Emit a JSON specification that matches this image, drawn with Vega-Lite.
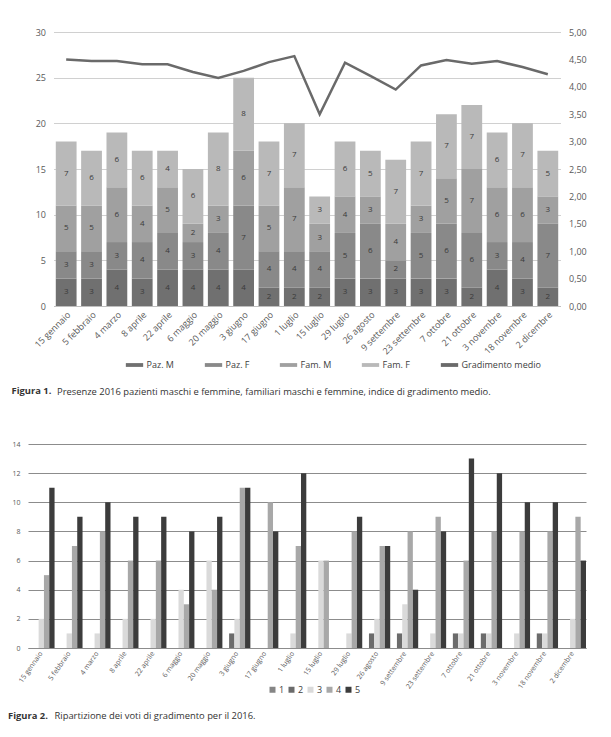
{
  "$schema": "https://vega.github.io/schema/vega-lite/v6.json",
  "background": "white",
  "padding": {"top": 28, "left": 8, "right": 10, "bottom": 10},
  "config": {
    "font": "Open Sans",
    "locale": {"number": {"decimal": ",", "thousands": ".", "grouping": [3], "currency": ["€", ""]}},
    "view": {"stroke": null},
    "axis": {"labelColor": "#595959", "domain": false, "ticks": false, "labelFont": "Open Sans",
             "titleFont": "Open Sans", "titleFontSize": 9.4, "titleFontWeight": "normal", "titleColor": "#333333", "titleAlign": "left", "titleBaseline": "alphabetic", "titleAngle": 0},
    "legend": {"labelColor": "#404040", "title": null},
    "title": {"font": "Open Sans", "fontWeight": "bold", "fontSize": 9.4, "color": "#333333"}
  },
  "datasets": {
    "presenze": [
      {"data": "15 gennaio", "gruppo": "Paz. M", "n": 3}, {"data": "15 gennaio", "gruppo": "Paz. F", "n": 3}, {"data": "15 gennaio", "gruppo": "Fam. M", "n": 5}, {"data": "15 gennaio", "gruppo": "Fam. F", "n": 7},
      {"data": "5 febbraio", "gruppo": "Paz. M", "n": 3}, {"data": "5 febbraio", "gruppo": "Paz. F", "n": 3}, {"data": "5 febbraio", "gruppo": "Fam. M", "n": 5}, {"data": "5 febbraio", "gruppo": "Fam. F", "n": 6},
      {"data": "4 marzo", "gruppo": "Paz. M", "n": 4}, {"data": "4 marzo", "gruppo": "Paz. F", "n": 3}, {"data": "4 marzo", "gruppo": "Fam. M", "n": 6}, {"data": "4 marzo", "gruppo": "Fam. F", "n": 6},
      {"data": "8 aprile", "gruppo": "Paz. M", "n": 3}, {"data": "8 aprile", "gruppo": "Paz. F", "n": 4}, {"data": "8 aprile", "gruppo": "Fam. M", "n": 4}, {"data": "8 aprile", "gruppo": "Fam. F", "n": 6},
      {"data": "22 aprile", "gruppo": "Paz. M", "n": 4}, {"data": "22 aprile", "gruppo": "Paz. F", "n": 4}, {"data": "22 aprile", "gruppo": "Fam. M", "n": 5}, {"data": "22 aprile", "gruppo": "Fam. F", "n": 4},
      {"data": "6 maggio", "gruppo": "Paz. M", "n": 4}, {"data": "6 maggio", "gruppo": "Paz. F", "n": 3}, {"data": "6 maggio", "gruppo": "Fam. M", "n": 2}, {"data": "6 maggio", "gruppo": "Fam. F", "n": 6},
      {"data": "20 maggio", "gruppo": "Paz. M", "n": 4}, {"data": "20 maggio", "gruppo": "Paz. F", "n": 4}, {"data": "20 maggio", "gruppo": "Fam. M", "n": 3}, {"data": "20 maggio", "gruppo": "Fam. F", "n": 8},
      {"data": "3 giugno", "gruppo": "Paz. M", "n": 4}, {"data": "3 giugno", "gruppo": "Paz. F", "n": 7}, {"data": "3 giugno", "gruppo": "Fam. M", "n": 6}, {"data": "3 giugno", "gruppo": "Fam. F", "n": 8},
      {"data": "17 giugno", "gruppo": "Paz. M", "n": 2}, {"data": "17 giugno", "gruppo": "Paz. F", "n": 4}, {"data": "17 giugno", "gruppo": "Fam. M", "n": 5}, {"data": "17 giugno", "gruppo": "Fam. F", "n": 7},
      {"data": "1 luglio", "gruppo": "Paz. M", "n": 2}, {"data": "1 luglio", "gruppo": "Paz. F", "n": 4}, {"data": "1 luglio", "gruppo": "Fam. M", "n": 7}, {"data": "1 luglio", "gruppo": "Fam. F", "n": 7},
      {"data": "15 luglio", "gruppo": "Paz. M", "n": 2}, {"data": "15 luglio", "gruppo": "Paz. F", "n": 4}, {"data": "15 luglio", "gruppo": "Fam. M", "n": 3}, {"data": "15 luglio", "gruppo": "Fam. F", "n": 3},
      {"data": "29 luglio", "gruppo": "Paz. M", "n": 3}, {"data": "29 luglio", "gruppo": "Paz. F", "n": 5}, {"data": "29 luglio", "gruppo": "Fam. M", "n": 4}, {"data": "29 luglio", "gruppo": "Fam. F", "n": 6},
      {"data": "26 agosto", "gruppo": "Paz. M", "n": 3}, {"data": "26 agosto", "gruppo": "Paz. F", "n": 6}, {"data": "26 agosto", "gruppo": "Fam. M", "n": 3}, {"data": "26 agosto", "gruppo": "Fam. F", "n": 5},
      {"data": "9 settembre", "gruppo": "Paz. M", "n": 3}, {"data": "9 settembre", "gruppo": "Paz. F", "n": 2}, {"data": "9 settembre", "gruppo": "Fam. M", "n": 4}, {"data": "9 settembre", "gruppo": "Fam. F", "n": 7},
      {"data": "23 settembre", "gruppo": "Paz. M", "n": 3}, {"data": "23 settembre", "gruppo": "Paz. F", "n": 5}, {"data": "23 settembre", "gruppo": "Fam. M", "n": 3}, {"data": "23 settembre", "gruppo": "Fam. F", "n": 7},
      {"data": "7 ottobre", "gruppo": "Paz. M", "n": 3}, {"data": "7 ottobre", "gruppo": "Paz. F", "n": 6}, {"data": "7 ottobre", "gruppo": "Fam. M", "n": 5}, {"data": "7 ottobre", "gruppo": "Fam. F", "n": 7},
      {"data": "21 ottobre", "gruppo": "Paz. M", "n": 2}, {"data": "21 ottobre", "gruppo": "Paz. F", "n": 6}, {"data": "21 ottobre", "gruppo": "Fam. M", "n": 7}, {"data": "21 ottobre", "gruppo": "Fam. F", "n": 7},
      {"data": "3 novembre", "gruppo": "Paz. M", "n": 4}, {"data": "3 novembre", "gruppo": "Paz. F", "n": 3}, {"data": "3 novembre", "gruppo": "Fam. M", "n": 6}, {"data": "3 novembre", "gruppo": "Fam. F", "n": 6},
      {"data": "18 novembre", "gruppo": "Paz. M", "n": 3}, {"data": "18 novembre", "gruppo": "Paz. F", "n": 4}, {"data": "18 novembre", "gruppo": "Fam. M", "n": 6}, {"data": "18 novembre", "gruppo": "Fam. F", "n": 7},
      {"data": "2 dicembre", "gruppo": "Paz. M", "n": 2}, {"data": "2 dicembre", "gruppo": "Paz. F", "n": 7}, {"data": "2 dicembre", "gruppo": "Fam. M", "n": 3}, {"data": "2 dicembre", "gruppo": "Fam. F", "n": 5}
    ],
    "gradimento": [
      {"data": "15 gennaio", "media": 4.50}, {"data": "5 febbraio", "media": 4.47}, {"data": "4 marzo", "media": 4.47}, {"data": "8 aprile", "media": 4.41},
      {"data": "22 aprile", "media": 4.41}, {"data": "6 maggio", "media": 4.27}, {"data": "20 maggio", "media": 4.16}, {"data": "3 giugno", "media": 4.29},
      {"data": "17 giugno", "media": 4.45}, {"data": "1 luglio", "media": 4.56}, {"data": "15 luglio", "media": 3.50}, {"data": "29 luglio", "media": 4.44},
      {"data": "26 agosto", "media": 4.20}, {"data": "9 settembre", "media": 3.95}, {"data": "23 settembre", "media": 4.39}, {"data": "7 ottobre", "media": 4.49},
      {"data": "21 ottobre", "media": 4.42}, {"data": "3 novembre", "media": 4.47}, {"data": "18 novembre", "media": 4.36}, {"data": "2 dicembre", "media": 4.23}
    ],
    "voti": [
      {"data": "15 gennaio", "voto": "1", "n": 0}, {"data": "15 gennaio", "voto": "2", "n": 0}, {"data": "15 gennaio", "voto": "3", "n": 2}, {"data": "15 gennaio", "voto": "4", "n": 5}, {"data": "15 gennaio", "voto": "5", "n": 11},
      {"data": "5 febbraio", "voto": "1", "n": 0}, {"data": "5 febbraio", "voto": "2", "n": 0}, {"data": "5 febbraio", "voto": "3", "n": 1}, {"data": "5 febbraio", "voto": "4", "n": 7}, {"data": "5 febbraio", "voto": "5", "n": 9},
      {"data": "4 marzo", "voto": "1", "n": 0}, {"data": "4 marzo", "voto": "2", "n": 0}, {"data": "4 marzo", "voto": "3", "n": 1}, {"data": "4 marzo", "voto": "4", "n": 8}, {"data": "4 marzo", "voto": "5", "n": 10},
      {"data": "8 aprile", "voto": "1", "n": 0}, {"data": "8 aprile", "voto": "2", "n": 0}, {"data": "8 aprile", "voto": "3", "n": 2}, {"data": "8 aprile", "voto": "4", "n": 6}, {"data": "8 aprile", "voto": "5", "n": 9},
      {"data": "22 aprile", "voto": "1", "n": 0}, {"data": "22 aprile", "voto": "2", "n": 0}, {"data": "22 aprile", "voto": "3", "n": 2}, {"data": "22 aprile", "voto": "4", "n": 6}, {"data": "22 aprile", "voto": "5", "n": 9},
      {"data": "6 maggio", "voto": "1", "n": 0}, {"data": "6 maggio", "voto": "2", "n": 0}, {"data": "6 maggio", "voto": "3", "n": 4}, {"data": "6 maggio", "voto": "4", "n": 3}, {"data": "6 maggio", "voto": "5", "n": 8},
      {"data": "20 maggio", "voto": "1", "n": 0}, {"data": "20 maggio", "voto": "2", "n": 0}, {"data": "20 maggio", "voto": "3", "n": 6}, {"data": "20 maggio", "voto": "4", "n": 4}, {"data": "20 maggio", "voto": "5", "n": 9},
      {"data": "3 giugno", "voto": "1", "n": 0}, {"data": "3 giugno", "voto": "2", "n": 1}, {"data": "3 giugno", "voto": "3", "n": 2}, {"data": "3 giugno", "voto": "4", "n": 11}, {"data": "3 giugno", "voto": "5", "n": 11},
      {"data": "17 giugno", "voto": "1", "n": 0}, {"data": "17 giugno", "voto": "2", "n": 0}, {"data": "17 giugno", "voto": "3", "n": 0}, {"data": "17 giugno", "voto": "4", "n": 10}, {"data": "17 giugno", "voto": "5", "n": 8},
      {"data": "1 luglio", "voto": "1", "n": 0}, {"data": "1 luglio", "voto": "2", "n": 0}, {"data": "1 luglio", "voto": "3", "n": 1}, {"data": "1 luglio", "voto": "4", "n": 7}, {"data": "1 luglio", "voto": "5", "n": 12},
      {"data": "15 luglio", "voto": "1", "n": 0}, {"data": "15 luglio", "voto": "2", "n": 0}, {"data": "15 luglio", "voto": "3", "n": 6}, {"data": "15 luglio", "voto": "4", "n": 6}, {"data": "15 luglio", "voto": "5", "n": 0},
      {"data": "29 luglio", "voto": "1", "n": 0}, {"data": "29 luglio", "voto": "2", "n": 0}, {"data": "29 luglio", "voto": "3", "n": 1}, {"data": "29 luglio", "voto": "4", "n": 8}, {"data": "29 luglio", "voto": "5", "n": 9},
      {"data": "26 agosto", "voto": "1", "n": 0}, {"data": "26 agosto", "voto": "2", "n": 1}, {"data": "26 agosto", "voto": "3", "n": 2}, {"data": "26 agosto", "voto": "4", "n": 7}, {"data": "26 agosto", "voto": "5", "n": 7},
      {"data": "9 settembre", "voto": "1", "n": 0}, {"data": "9 settembre", "voto": "2", "n": 1}, {"data": "9 settembre", "voto": "3", "n": 3}, {"data": "9 settembre", "voto": "4", "n": 8}, {"data": "9 settembre", "voto": "5", "n": 4},
      {"data": "23 settembre", "voto": "1", "n": 0}, {"data": "23 settembre", "voto": "2", "n": 0}, {"data": "23 settembre", "voto": "3", "n": 1}, {"data": "23 settembre", "voto": "4", "n": 9}, {"data": "23 settembre", "voto": "5", "n": 8},
      {"data": "7 ottobre", "voto": "1", "n": 0}, {"data": "7 ottobre", "voto": "2", "n": 1}, {"data": "7 ottobre", "voto": "3", "n": 1}, {"data": "7 ottobre", "voto": "4", "n": 6}, {"data": "7 ottobre", "voto": "5", "n": 13},
      {"data": "21 ottobre", "voto": "1", "n": 0}, {"data": "21 ottobre", "voto": "2", "n": 1}, {"data": "21 ottobre", "voto": "3", "n": 1}, {"data": "21 ottobre", "voto": "4", "n": 8}, {"data": "21 ottobre", "voto": "5", "n": 12},
      {"data": "3 novembre", "voto": "1", "n": 0}, {"data": "3 novembre", "voto": "2", "n": 0}, {"data": "3 novembre", "voto": "3", "n": 1}, {"data": "3 novembre", "voto": "4", "n": 8}, {"data": "3 novembre", "voto": "5", "n": 10},
      {"data": "18 novembre", "voto": "1", "n": 0}, {"data": "18 novembre", "voto": "2", "n": 1}, {"data": "18 novembre", "voto": "3", "n": 1}, {"data": "18 novembre", "voto": "4", "n": 8}, {"data": "18 novembre", "voto": "5", "n": 10},
      {"data": "2 dicembre", "voto": "1", "n": 0}, {"data": "2 dicembre", "voto": "2", "n": 0}, {"data": "2 dicembre", "voto": "3", "n": 2}, {"data": "2 dicembre", "voto": "4", "n": 9}, {"data": "2 dicembre", "voto": "5", "n": 6}
    ]
  },
  "bounds": "flush",
  "center": true,
  "spacing": 138,
  "resolve": {"scale": {"x": "independent", "y": "independent", "color": "independent"}, "legend": {"color": "independent"}},
  "vconcat": [
    {
      "width": 507,
      "height": 274,
      "title": {"text": "Figura 1.", "orient": "bottom", "anchor": "start", "frame": "group", "dx": -42, "offset": -8},
      "layer": [
        {
          "data": {"name": "presenze"},
          "transform": [
            {"stack": "n", "groupby": ["data"], "sort": [{"field": "gruppo", "order": "descending"}], "as": ["v0", "v1"]},
            {"calculate": "(datum.v0 + datum.v1) / 2", "as": "mid"}
          ],
          "layer": [
            {
              "mark": {"type": "bar"},
              "encoding": {
                "x": {"field": "data", "type": "nominal", "sort": null, "scale": {"paddingInner": 0.18, "paddingOuter": 0.09},
                      "title": "Presenze 2016 pazienti maschi e femmine, familiari maschi e femmine, indice di gradimento medio.",
                      "axis": {"labelAngle": -45, "labelFontSize": 9, "domain": true, "domainColor": "#bfbfbf", "labelPadding": 4, "titleX": 3, "titleY": 88}},
                "y": {"field": "v0", "type": "quantitative", "scale": {"domain": [0, 30], "nice": false}, "title": null,
                      "axis": {"values": [0, 5, 10, 15, 20, 25, 30], "grid": true, "gridColor": "#d0d0d0", "labelFontSize": 9, "labelPadding": 8}},
                "y2": {"field": "v1"},
                "color": {"field": "gruppo", "type": "nominal",
                          "scale": {"domain": ["Paz. M", "Paz. F", "Fam. M", "Fam. F", "Gradimento medio"], "range": ["#707070", "#898989", "#a0a0a0", "#b9b9b9", "#6a6a6a"]},
                          "legend": {"orient": "none", "legendX": 72, "legendY": 324, "direction": "horizontal", "labelFontSize": 9, "labelOffset": 3, "symbolType": "M-1,-0.22H1V0.22H-1Z", "symbolSize": 300, "symbolStrokeWidth": 0, "columnPadding": 30}}
              }
            },
            {
              "mark": {"type": "text", "fontSize": 8, "color": "#3a3a3a"},
              "encoding": {
                "x": {"field": "data", "type": "nominal", "sort": null},
                "y": {"field": "mid", "type": "quantitative"},
                "text": {"field": "n", "type": "quantitative"}
              }
            }
          ]
        },
        {
          "data": {"name": "gradimento"},
          "mark": {"type": "line", "strokeWidth": 2.5, "color": "#6a6a6a"},
          "encoding": {
            "x": {"field": "data", "type": "nominal", "sort": null},
            "y": {"field": "media", "type": "quantitative", "scale": {"domain": [0, 5], "nice": false}, "title": null,
                  "axis": {"orient": "right", "format": ".2f", "values": [0, 0.5, 1, 1.5, 2, 2.5, 3, 3.5, 4, 4.5, 5], "grid": false, "labelFontSize": 9, "labelPadding": 8}},
            "color": {"datum": "Gradimento medio"}
          }
        }
      ],
      "resolve": {"scale": {"y": "independent"}}
    },
    {
      "width": 558,
      "height": 204,
      "title": {"text": "Figura 2.", "orient": "bottom", "anchor": "start", "frame": "group", "dx": -20, "offset": -7},
      "data": {"name": "voti"},
      "mark": {"type": "bar"},
      "encoding": {
        "x": {"field": "data", "type": "nominal", "sort": null, "scale": {"paddingInner": 0.05, "paddingOuter": 0},
              "title": "Ripartizione dei voti di gradimento per il 2016.",
              "axis": {"labelAngle": -55, "labelFontSize": 7, "domain": true, "domainColor": "#8c8c8c", "labelPadding": 4, "titleX": 26, "titleY": 70}},
        "xOffset": {"field": "voto", "type": "nominal"},
        "y": {"field": "n", "type": "quantitative", "scale": {"domain": [0, 14], "nice": false}, "title": null,
              "axis": {"values": [0, 2, 4, 6, 8, 10, 12, 14], "grid": true, "gridColor": "#8c8c8c", "labelFontSize": 7, "labelPadding": 8}},
        "color": {"field": "voto", "type": "nominal",
                  "scale": {"domain": ["1", "2", "3", "4", "5"], "range": ["#858585", "#6b6b6b", "#dadada", "#a8a8a8", "#3c3c3c"]},
                  "legend": {"orient": "none", "legendX": 240, "legendY": 241, "direction": "horizontal", "labelFontSize": 9, "labelOffset": 2, "symbolType": "square", "symbolSize": 36, "columnPadding": 2}}
      }
    }
  ]
}
